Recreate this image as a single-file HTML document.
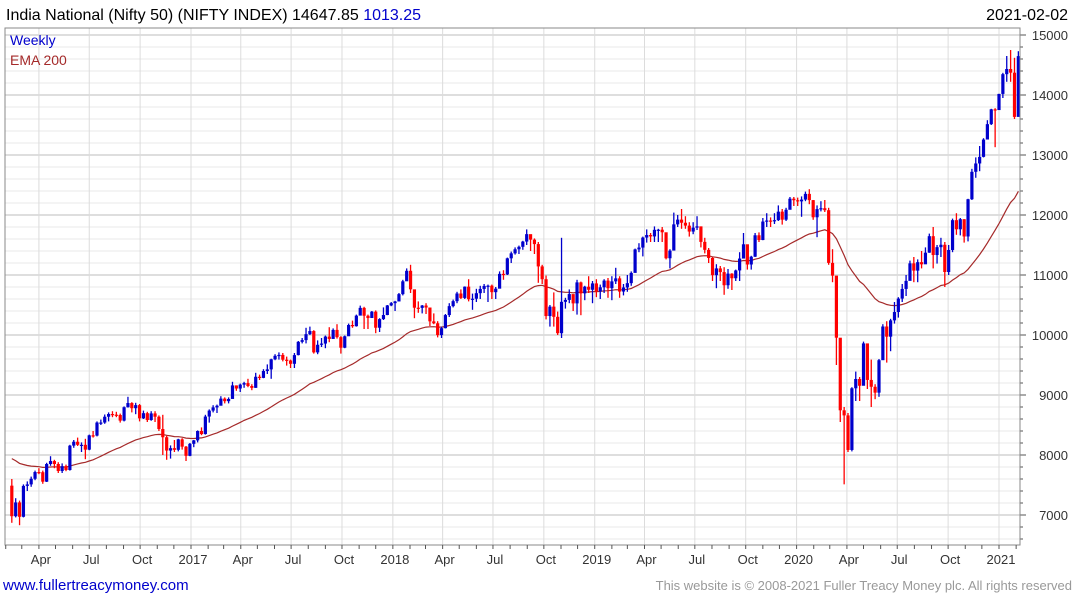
<!DOCTYPE html>
<html><head><meta charset="utf-8"><style>
body{margin:0;background:#fff;font-family:"Liberation Sans",sans-serif;}
svg{display:block}
</style></head><body>
<svg id="chart" width="1075" height="600" xmlns="http://www.w3.org/2000/svg">
<rect x="0" y="0" width="1075" height="600" fill="#fff"/>
<g id="grid"></g>
<g id="ema"></g>
<g id="candles"></g>
<rect x="5" y="28" width="1015" height="517" fill="none" stroke="#888" stroke-width="1"/>
<g id="axes"></g>
<text x="6" y="20" font-size="16" fill="#000">India National (Nifty 50) (NIFTY INDEX) 14647.85 <tspan fill="#0000cc">1013.25</tspan></text>
<text x="1068" y="20" font-size="16" fill="#000" text-anchor="end">2021-02-02</text>
<text x="10" y="45" font-size="14" fill="#0000cc">Weekly</text>
<text x="10" y="65" font-size="14" fill="#a52a2a">EMA 200</text>
<text x="3" y="590" font-size="15" fill="#0000cc">www.fullertreacymoney.com</text>
<text x="1072" y="590" font-size="13" fill="#999" text-anchor="end">This website is © 2008-2021 Fuller Treacy Money plc. All rights reserved</text>
</svg>
<script>
const startDate = "2016-02-12";
const firstOpen = 7489;
const closes = [6980,7210,6970,7485,7510,7604,7716,7713,7555,7850,7899,7850,7733,7814,7750,8156,8221,8170,8170,8089,8328,8323,8541,8541,8638,8683,8672,8667,8573,8796,8866,8780,8831,8611,8697,8583,8693,8638,8433,8296,8074,8114,8086,8261,8139,7986,8186,
8244,8400,8349,8641,8740,8793,8821,8940,8897,8934,9160,9108,9173,9198,9150,9119,9304,9285,9400,9427,9595,9653,9668,9588,9575,9520,9665,9886,9915,10014,10066,9710,9837,9857,9974,9934,10085,9964,9788,9979,10167,10146,10323,10452,10321,10283,10389,10121,10265,10333,10493,10531,
10559,10681,10895,11070,10761,10455,10452,10491,10458,10227,10195,9998,10114,10332,10481,10564,10692,10618,10806,10596,10605,10697,10768,10818,10822,10714,10772,11019,11010,11278,11361,11429,11470,11557,11681,11589,11515,11143,10930,10316,10473,10303,10030,10553,10585,10682,10527,10877,10694,10805,10754,10860,
10727,10795,10907,10780,10894,10944,10724,10792,10864,11035,11427,11457,11624,11666,11643,11753,11755,11712,11279,11407,11844,11923,11871,11823,11724,11789,11811,11552,11419,11284,10997,11110,11048,10829,11023,10946,11076,11274,11512,11175,11305,11662,11583,11891,11908,11895,11914,12056,11922,12087,12272,12246,
12227,12257,12352,12248,11962,12098,12113,12080,11202,10989,9955,8745,8660,8084,9112,9267,9154,9860,9251,9137,9039,9580,10142,9972,10244,10383,10607,10768,10902,11194,11073,11214,11178,11372,11647,11333,11464,11504,11050,11417,11914,11762,11930,11642,12263,12720,12859,12969,13258,13514,13761,13749,14018,
14347,14433,14372,13635,14648];
const highs = [7600,7280,7240,7510,7560,7640,7740,7780,7740,7870,7980,7920,7880,7860,7840,8170,8250,8290,8210,8270,8340,8400,8560,8590,8675,8710,8730,8720,8690,8810,8970,8880,8870,8850,8740,8720,8730,8730,8660,8670,8320,8160,8250,8270,8280,8150,8200,
8250,8410,8460,8670,8760,8830,8840,8980,8960,8960,9220,9160,9190,9220,9270,9180,9370,9340,9430,9510,9605,9680,9710,9700,9640,9590,9700,9900,9950,10120,10140,10080,9910,9950,9990,10130,10110,10180,9980,9990,10190,10240,10340,10490,10470,10340,10400,10410,10280,10460,10500,10550,
10570,10700,10920,11110,11170,10640,10560,10500,10530,10400,10360,10230,10140,10350,10530,10590,10720,10760,10810,10930,10690,10770,10820,10850,10840,10840,10800,11060,11080,11290,11390,11460,11490,11570,11760,11620,11610,11550,11170,10990,10500,10710,10390,11620,10620,10760,10650,10920,10890,10820,10980,10900,
10930,10840,10930,10950,10980,11120,10980,10850,11000,11060,11440,11530,11640,11760,11700,11810,11770,11800,11700,11430,12040,12000,12100,11980,11880,11880,11980,11800,11620,11450,11300,11180,11150,11130,11100,11030,11090,11380,11700,11500,11320,11700,11710,11950,12030,11960,12030,12160,12100,12120,12300,12300,
12290,12310,12390,12430,12250,12160,12230,12250,12120,11430,10750,9950,8800,8700,9130,9390,9300,9890,9620,9590,9180,9600,10180,10230,10270,10550,10630,10850,11000,11240,11300,11260,11400,11460,11690,11800,11500,11620,11550,11500,11940,12030,11950,11930,12270,12770,12960,13150,13280,13580,13770,13780,14020,
14370,14650,14750,14620,14730];
const lows = [6870,6960,6830,6960,7400,7470,7580,7680,7520,7550,7820,7780,7700,7700,7730,7740,8120,8150,8050,7930,8080,8290,8310,8500,8520,8560,8630,8630,8540,8560,8790,8710,8680,8560,8600,8550,8570,8550,8400,8000,7920,7940,8050,8060,8090,7900,7980,
8130,8210,8330,8340,8540,8710,8700,8840,8860,8860,9000,9070,9050,9120,9130,9080,9120,9250,9280,9350,9270,9580,9590,9560,9490,9450,9450,9660,9860,9860,10000,9690,9680,9800,9780,9880,9950,9940,9690,9780,10000,10120,10140,10380,10100,10100,10290,10030,10050,10250,10330,10480,
10400,10560,10660,10900,10700,10280,10370,10360,10350,10150,10180,9960,9950,10110,10300,10460,10530,10600,10600,10560,10420,10550,10600,10700,10550,10600,10600,10800,10920,11000,11200,11340,11350,11420,11500,11400,11350,10870,10850,10260,10140,10140,10000,9950,10440,10530,10400,10340,10330,10580,10700,10530,
10630,10600,10700,10620,10580,10850,10620,10660,10720,10820,11040,11380,11310,11540,11550,11550,11550,11550,11260,11110,11600,11800,11770,11770,11640,11680,11750,11460,11360,11200,10900,10780,10900,10670,10770,10750,10900,10900,11300,11090,11090,11300,11550,11580,11800,11800,11850,11900,11840,11900,12100,12150,
12150,11970,12230,12180,11920,11630,12060,12050,11170,10880,9500,8550,7511,8050,8060,8900,8900,9160,9100,8800,8930,8970,9600,9540,9730,10190,10290,10550,10650,10950,10880,10880,11110,11190,11370,11110,11190,11300,10800,11000,11380,11670,11660,11540,11560,12250,12620,12730,12960,13280,13500,13130,13800,
13950,14220,14220,13600,13700];
const emaPeriod = 40;
const emaSeed = 7990;

const NS = "http://www.w3.org/2000/svg";
const PT = {x0: 5, x1: 1020, y0: 28, y1: 545};
function yScale(p){ return 515 - (p - 7000) * 0.06; }
const base = new Date("2017-01-01T00:00:00Z").getTime();
function xDate(d){ return 191 + (d.getTime() - base) / 86400000 / 365.25 * 202; }
const d0 = new Date(startDate + "T00:00:00Z");
function xIdx(i){ return xDate(new Date(d0.getTime() + i * 7 * 86400000)); }
function mk(tag, attrs, parent){ const e = document.createElementNS(NS, tag); for (const k in attrs) e.setAttribute(k, attrs[k]); parent.appendChild(e); return e; }

const grid = document.getElementById("grid");
for (let p = 6600; p <= 15000; p += 200) {
  const y = yScale(p);
  if (y < PT.y0 || y > PT.y1) continue;
  const major = p % 1000 === 0;
  const l = mk("line", {x1: PT.x0, x2: PT.x1, y1: y, y2: y, stroke: major ? "#bcbcbc" : "#e8e8e8", "stroke-width": 1}, grid);
  
  
  const t = mk("line", {x1: PT.x1, x2: PT.x1 + (major ? 6 : 3), y1: y, y2: y, stroke: "#555"}, grid);
  
  
  if (major) {
    const tx = mk("text", {x: 1068, y: y + 5, "font-size": 13, "text-anchor": "end", fill: "#333"}, grid);
    tx.textContent = p;
    
    
  }
}
const axes = document.getElementById("axes");
const mnames = ["Jan","Feb","Mar","Apr","May","Jun","Jul","Aug","Sep","Oct","Nov","Dec"];
for (let yr = 2016; yr <= 2021; yr++) {
  for (let m = 0; m < 12; m++) {
    const x = xDate(new Date(Date.UTC(yr, m, 1)));
    if (x < PT.x0 || x > PT.x1) continue;
    const tk = mk("line", {x1: x, x2: x, y1: PT.y1, y2: PT.y1 + 4, stroke: "#555"}, axes);
    
    
    if (m % 3 === 0) {
      const g = mk("line", {x1: x, x2: x, y1: PT.y0, y2: PT.y1, stroke: "#dcdcdc"}, grid);
      
      
      const t = mk("text", {x: x + 2, y: 564, "font-size": 13, "text-anchor": "middle", fill: "#333"}, axes);
      t.textContent = m === 0 ? String(yr) : mnames[m];
      
      
    }
  }
}
// EMA
const alpha = 2 / (emaPeriod + 1);
let e = emaSeed, pts = [];
for (let i = 0; i < closes.length; i++) {
  e = e + alpha * (closes[i] - e);
  pts.push(xIdx(i).toFixed(1) + "," + yScale(e).toFixed(1));
}
const emaLine = mk("polyline", {points: pts.join(" "), fill: "none", stroke: "#a52a2a", "stroke-width": 1.2}, document.getElementById("ema"));


// candles
const cg = document.getElementById("candles");
for (let i = 0; i < closes.length; i++) {
  const o = i === 0 ? firstOpen : closes[i - 1];
  const c = closes[i];
  const col = c >= o ? "#0000cc" : "#ff0000";
  const x = xIdx(i);
  const g = mk("g", {}, cg);
  
  
  mk("line", {x1: x, x2: x, y1: yScale(highs[i]), y2: yScale(lows[i]), stroke: col, "stroke-width": 1.3}, g);
  const top = yScale(Math.max(o, c)), bot = yScale(Math.min(o, c));
  mk("rect", {x: x - 1.6, y: top, width: 3.2, height: Math.max(1.2, bot - top), fill: col}, g);
}
</script>
</body></html>
